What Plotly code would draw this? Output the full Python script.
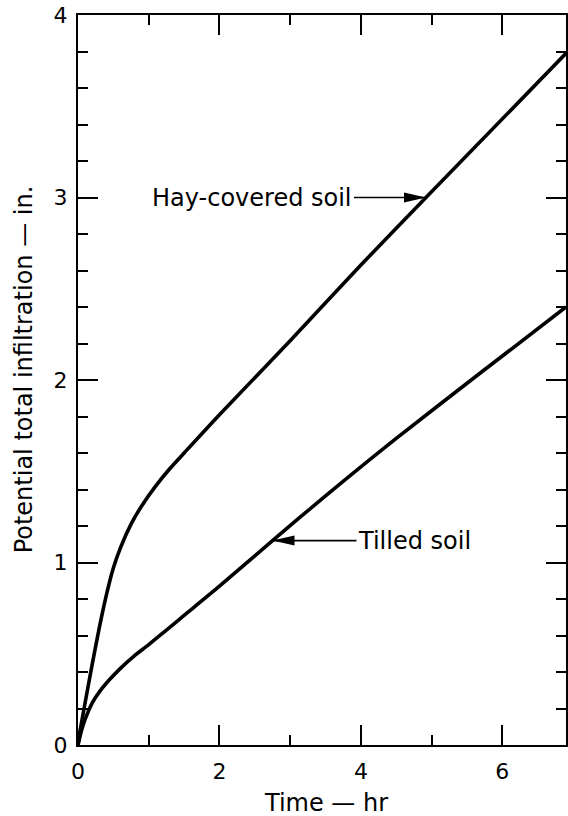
import plotly.graph_objects as go

# ---- data ----
time_hay = [0, 0.03, 0.10, 0.20, 0.30, 0.40, 0.50, 0.60, 0.75, 0.90, 1.10, 1.30, 1.50, 2.0, 3.0, 4.0, 4.92, 6.9]
infil_hay = [0, 0.08, 0.23, 0.44, 0.64, 0.82, 0.97, 1.08, 1.21, 1.31, 1.42, 1.515, 1.60, 1.81, 2.215, 2.63, 3.00, 3.79]

time_tilled = [0, 0.05, 0.10, 0.20, 0.30, 0.45, 0.60, 0.80, 1.0, 1.25, 1.5, 2.0, 2.75, 3.5, 4.5, 5.66, 6.9]
infil_tilled = [0, 0.08, 0.14, 0.23, 0.29, 0.36, 0.42, 0.49, 0.55, 0.63, 0.71, 0.87, 1.12, 1.365, 1.68, 2.03, 2.40]

x_tick_vals = [0, 2, 4, 6]
y_tick_vals = [0, 1, 2, 3, 4]

hay_label = "Hay-covered soil"
hay_point = (4.92, 3.0)
tilled_label = "Tilled soil"
tilled_point = (2.75, 1.12)

FONT = "DejaVu Sans"

fig = go.Figure()
for xs, ys in [(time_hay, infil_hay), (time_tilled, infil_tilled)]:
    fig.add_trace(go.Scatter(x=xs, y=ys, mode="lines",
                             line=dict(color="black", width=3.6, shape="spline", smoothing=0.7),
                             showlegend=False, hoverinfo="skip"))

axis_common = dict(showline=True, linecolor="black", linewidth=2, mirror="ticks",
                   ticks="inside", tickcolor="black", tickwidth=1.6,
                   showgrid=False, zeroline=False,
                   tickfont=dict(family=FONT, size=22, color="black"))

fig.update_xaxes(range=[0, 6.9], tickvals=x_tick_vals, ticklen=20,
                 minor=dict(dtick=1, tick0=0, ticks="inside", ticklen=10, tickwidth=1.6, tickcolor="black", showgrid=False),
                 ticklabelstandoff=6, **axis_common)
fig.update_yaxes(range=[0, 4], tickvals=y_tick_vals, ticklen=20,
                 minor=dict(dtick=0.2, tick0=0, ticks="inside", ticklen=10, tickwidth=1.6, tickcolor="black", showgrid=False),
                 ticklabelstandoff=4, **axis_common)

annos = []
annos.append(dict(x=hay_point[0], y=hay_point[1], xref="x", yref="y", text=hay_label,
                  showarrow=True, arrowhead=0, arrowwidth=1.6, arrowcolor="black",
                  ax=-72, ay=0, xanchor="right", yanchor="middle", standoff=0,
                  font=dict(family=FONT, size=24, color="black")))
annos.append(dict(x=tilled_point[0], y=tilled_point[1], xref="x", yref="y", text=tilled_label,
                  showarrow=True, arrowhead=0, arrowwidth=1.6, arrowcolor="black",
                  ax=84, ay=0, xanchor="left", yanchor="middle", standoff=0,
                  font=dict(family=FONT, size=24, color="black")))
annos.append(dict(x=3.5, y=-0.079, xref="x", yref="paper", text="Time — hr", showarrow=False,
                  xanchor="center", yanchor="middle", font=dict(family=FONT, size=24, color="black")))
annos.append(dict(x=-0.110, y=0.515, xref="paper", yref="paper", text="Potential total infiltration — in.",
                  showarrow=False, textangle=-90, xanchor="center", yanchor="middle",
                  font=dict(family=FONT, size=24, color="black")))

shapes = [
    dict(type="path", xref="x", yref="y", xsizemode="pixel", ysizemode="pixel",
         xanchor=hay_point[0], yanchor=hay_point[1], path="M0,0 L-22,5 L-22,-5 Z",
         fillcolor="black", line=dict(width=0)),
    dict(type="path", xref="x", yref="y", xsizemode="pixel", ysizemode="pixel",
         xanchor=tilled_point[0], yanchor=tilled_point[1], path="M0,0 L22,5 L22,-5 Z",
         fillcolor="black", line=dict(width=0)),
]

fig.update_layout(width=568, height=816, margin=dict(l=78, r=0, t=15, b=71),
                  plot_bgcolor="white", paper_bgcolor="white",
                  annotations=annos, shapes=shapes, showlegend=False)

fig.write_html("out.html", config={"displayModeBar": False},
               post_script="document.body.style.margin='0';document.body.style.padding='0';"
                           "document.body.style.overflow='hidden';"
                           "document.documentElement.style.overflow='hidden';")
